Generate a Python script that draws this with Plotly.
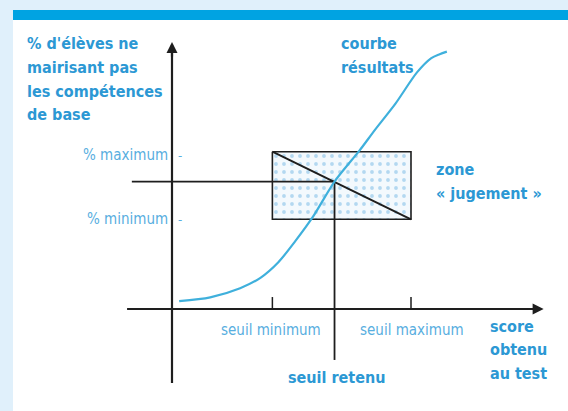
import plotly.graph_objects as go

# --- schematic values -------------------------------------------------------
# score obtained on the test (x) and % of pupils not mastering basic skills (y)
curve_score = [3, 16, 28.5, 37, 44.5, 51.5, 59, 68, 78.5, 85, 93.5, 102.5, 108.5, 112, 115]
curve_pct = [3, 4.5, 8, 12, 18, 26, 35.5, 49, 61, 69, 79, 91, 96.5, 98, 99]

seuil_minimum = 42
seuil_maximum = 100
seuil_retenu = 68
pct_minimum = 34.5
pct_maximum = 60.5
pct_retenu = 49

x_tick_labels = ["seuil minimum", "seuil maximum"]
y_tick_labels = ["% maximum", "% minimum"]

y_title_lines = ["% d'élèves ne", "mairisant pas", "les compétences", "de base"]
x_title_lines = ["score", "obtenu", "au test"]
curve_label_lines = ["courbe", "résultats"]
zone_label_lines = ["zone", "« jugement »"]

# --- page geometry ------------------------------------------------------------
W, H = 568, 411
X0_PX, X_SCALE = 172, 2.39   # pixel of score 0, pixels per score unit
Y0_PX, Y_SCALE = 309, 2.6    # pixel of 0 %, pixels per percent

x_range = [-X0_PX / X_SCALE, (W - X0_PX) / X_SCALE]
y_range = [-(H - Y0_PX) / Y_SCALE, Y0_PX / Y_SCALE]

# axis extents (in data units)
X_AXIS_FROM, X_AXIS_TO = -18.8, 154
Y_AXIS_FROM, Y_AXIS_TO = -28.5, 101.5
REF_LINE_FROM = -16.8
RETENU_LINE_TO = -19.6
TICK_LEN = 4.6

BOLD_BLUE = "#2c98d4"
LIGHT_BLUE = "#58aee0"
CURVE_BLUE = "#3fb0dc"
INK = "#1e1e1e"
FONT = "DejaVu Sans Condensed, DejaVu Sans, sans-serif"
LINE_GAP = 23.5


def px(x):
    return x / W


def py(y):
    return 1 - y / H


fig = go.Figure()

# judgement zone: dotted rectangle
fig.add_trace(go.Scatter(
    x=[seuil_minimum, seuil_maximum, seuil_maximum, seuil_minimum, seuil_minimum],
    y=[pct_maximum, pct_maximum, pct_minimum, pct_minimum, pct_maximum],
    mode="lines", fill="toself",
    fillcolor="#f2f8fd",
    fillpattern=dict(shape=".", fgcolor="#74b8e4", bgcolor="#f3f9fd",
                     size=8, solidity=0.18),
    line=dict(color=INK, width=1.6),
    hoverinfo="skip", showlegend=False,
))

# horizontal reference line at the retained percentage
fig.add_trace(go.Scatter(
    x=[REF_LINE_FROM, seuil_retenu], y=[pct_retenu, pct_retenu],
    mode="lines", line=dict(color=INK, width=1.8),
    hoverinfo="skip", showlegend=False,
))

# vertical line at the retained threshold
fig.add_trace(go.Scatter(
    x=[seuil_retenu, seuil_retenu], y=[pct_retenu, RETENU_LINE_TO],
    mode="lines", line=dict(color=INK, width=1.8),
    hoverinfo="skip", showlegend=False,
))

# diagonal of the judgement zone
fig.add_trace(go.Scatter(
    x=[seuil_minimum, seuil_maximum], y=[pct_maximum, pct_minimum],
    mode="lines", line=dict(color=INK, width=2),
    hoverinfo="skip", showlegend=False,
))

# tick marks for the two thresholds
for s in (seuil_minimum, seuil_maximum):
    fig.add_trace(go.Scatter(
        x=[s, s], y=[0, TICK_LEN],
        mode="lines", line=dict(color=INK, width=1.5),
        hoverinfo="skip", showlegend=False,
    ))

# results curve
fig.add_trace(go.Scatter(
    x=curve_score, y=curve_pct,
    mode="lines", line=dict(color=CURVE_BLUE, width=2.2, shape="spline", smoothing=0.8),
    hoverinfo="skip", showlegend=False,
))

# axes drawn as lines (arrows added below)
fig.add_trace(go.Scatter(
    x=[X_AXIS_FROM, X_AXIS_TO], y=[0, 0],
    mode="lines", line=dict(color=INK, width=2.2),
    hoverinfo="skip", showlegend=False,
))
fig.add_trace(go.Scatter(
    x=[0, 0], y=[Y_AXIS_FROM, Y_AXIS_TO],
    mode="lines", line=dict(color=INK, width=2.2),
    hoverinfo="skip", showlegend=False,
))

annotations = [
    # arrow heads
    dict(x=X_AXIS_TO + 1.5, y=0, ax=X_AXIS_TO - 6, ay=0, xref="x", yref="y",
         axref="x", ayref="y", showarrow=True, arrowhead=2, arrowsize=1,
         arrowwidth=2.2, arrowcolor=INK, text=""),
    dict(x=0, y=Y_AXIS_TO + 1.2, ax=0, ay=Y_AXIS_TO - 5, xref="x", yref="y",
         axref="x", ayref="y", showarrow=True, arrowhead=2, arrowsize=1,
         arrowwidth=2.2, arrowcolor=INK, text=""),
]


def label(text, x, y, size=16, bold=True, color=BOLD_BLUE, xanchor="left"):
    annotations.append(dict(
        text=f"<b>{text}</b>" if bold else text,
        x=px(x), y=py(y), xref="paper", yref="paper",
        xanchor=xanchor, yanchor="middle", showarrow=False,
        font=dict(family=FONT, size=size, color=color),
    ))


def block(lines, x, y_first):
    for i, line in enumerate(lines):
        label(line, x, y_first + i * LINE_GAP)


block(y_title_lines, 25, 44)
block(curve_label_lines, 339, 44)
block(zone_label_lines, 434, 170)
block(x_title_lines, 488, 326)
label("seuil retenu", 336, 377, xanchor="center")
label(x_tick_labels[0], 271, 330, size=15, bold=False, color=LIGHT_BLUE, xanchor="center")
label(x_tick_labels[1], 412, 330, size=15, bold=False, color=LIGHT_BLUE, xanchor="center")
label(y_tick_labels[0], 170, 155, size=15, bold=False, color=LIGHT_BLUE, xanchor="right")
label(y_tick_labels[1], 170, 219, size=15, bold=False, color=LIGHT_BLUE, xanchor="right")
label("-", 176, 155, size=13, bold=False, color=LIGHT_BLUE)
label("-", 176, 219, size=13, bold=False, color=LIGHT_BLUE)

shapes = [
    # white panel and blue header bar
    dict(type="rect", xref="paper", yref="paper", x0=px(13), x1=px(W), y0=py(H), y1=py(20),
         fillcolor="white", line=dict(width=0), layer="below"),
    dict(type="rect", xref="paper", yref="paper", x0=px(13), x1=px(W), y0=py(20), y1=py(10),
         fillcolor="#00a3e2", line=dict(width=0), layer="below"),
]

fig.update_layout(
    width=W, height=H,
    margin=dict(l=0, r=0, t=0, b=0),
    paper_bgcolor="#e0f0fb",
    plot_bgcolor="rgba(0,0,0,0)",
    xaxis=dict(range=x_range, visible=False, fixedrange=True),
    yaxis=dict(range=y_range, visible=False, fixedrange=True),
    annotations=annotations,
    shapes=shapes,
    showlegend=False,
)

fig.write_html("out.html")
